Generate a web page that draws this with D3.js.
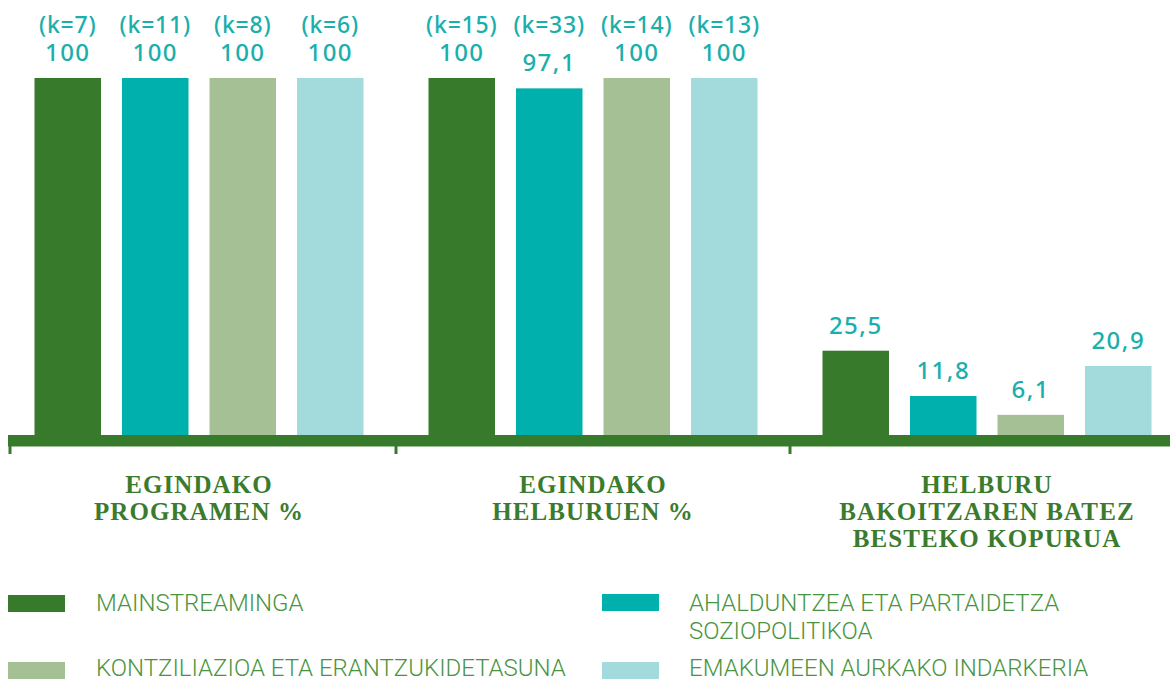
<!DOCTYPE html>
<html>
<head>
<meta charset="utf-8">
<script src="https://cdn.jsdelivr.net/npm/d3@7/dist/d3.min.js"></script>
<style>
  html, body { margin: 0; padding: 0; background: #ffffff; }
  svg { display: block; }
</style>
</head>
<body>
<svg id="chart" width="1170" height="680"></svg>
<script>
// ---- Data ----
const groups = ["g1", "g2", "g3"];
const groupLabels = [
  ["EGINDAKO", "PROGRAMEN %"],
  ["EGINDAKO", "HELBURUEN %"],
  ["HELBURU", "BAKOITZAREN BATEZ", "BESTEKO KOPURUA"]
];
const seriesKeys = ["mainstreaming", "ahalduntzea", "kontziliazioa", "indarkeria"];
const seriesNames = [
  ["MAINSTREAMINGA"],
  ["AHALDUNTZEA ETA PARTAIDETZA", "SOZIOPOLITIKOA"],
  ["KONTZILIAZIOA ETA ERANTZUKIDETASUNA"],
  ["EMAKUMEEN AURKAKO INDARKERIA"]
];
const programenValues = [100, 100, 100, 100];
const helburuenValues = [100, 97.1, 100, 100];
const kopuruaValues = [25.5, 11.8, 6.1, 20.9];
const programenK = [7, 11, 8, 6];
const helburuenK = [15, 33, 14, 13];
const valueLabels = [
  ["100", "100", "100", "100"],
  ["100", "97,1", "100", "100"],
  ["25,5", "11,8", "6,1", "20,9"]
];
const colors = ["#387a2c", "#00b0ad", "#a5c095", "#a3dadb"];

// ---- Layout ----
const svg = d3.select("#chart");
const baseY = 435;
const topY = 78;

const x0 = d3.scaleBand().domain(groups).range([2, 1184]).paddingInner(0).paddingOuter(0);
const x1 = d3.scaleBand().domain(seriesKeys).range([-175, 175]).paddingInner(0.24).paddingOuter(0.12);
const yPct = d3.scaleLinear().domain([0, 100]).range([baseY, topY]);
const yCount = d3.scaleLinear().domain([0, 108]).range([baseY, topY]);

const color = d3.scaleOrdinal().domain(seriesKeys).range(colors);

const data = [
  { g: "g1", values: programenValues, k: programenK, y: yPct },
  { g: "g2", values: helburuenValues, k: helburuenK, y: yPct },
  { g: "g3", values: kopuruaValues, k: null, y: yCount }
];

const labelColor = "#1aafac";
const greenText = "#3a7b2d";

data.forEach((grp, gi) => {
  const cx = x0(grp.g) + x0.bandwidth() / 2;
  const gSel = svg.append("g").attr("transform", `translate(${cx},0)`);
  seriesKeys.forEach((s, i) => {
    const v = grp.values[i];
    const bx = x1(s);
    gSel.append("rect")
      .attr("x", bx)
      .attr("y", grp.y(v))
      .attr("width", x1.bandwidth())
      .attr("height", baseY - grp.y(v))
      .attr("fill", color(s));
    gSel.append("text")
      .attr("x", bx + x1.bandwidth() / 2)
      .attr("y", grp.y(v) - 17)
      .attr("text-anchor", "middle")
      .attr("font-family", "'Noto Sans', sans-serif")
      .attr("font-weight", 500)
      .attr("font-size", 24)
      .attr("letter-spacing", 1.5)
      .attr("fill", labelColor)
      .text(valueLabels[gi][i]);
    if (grp.k) {
      gSel.append("text")
        .attr("x", bx + x1.bandwidth() / 2)
        .attr("y", grp.y(100) - 45)
        .attr("text-anchor", "middle")
        .attr("font-family", "'Noto Sans', sans-serif")
        .attr("font-weight", 500)
        .attr("font-size", 23)
        .attr("letter-spacing", 0.8)
        .attr("fill", labelColor)
        .text(`(k=${grp.k[i]})`);
    }
  });

  // category label
  const t = svg.append("text")
    .attr("x", cx)
    .attr("y", 493)
    .attr("text-anchor", "middle")
    .attr("font-family", "'Liberation Serif', 'Times New Roman', serif")
    .attr("font-weight", "bold")
    .attr("font-size", 25)
    .attr("letter-spacing", 1.1)
    .attr("fill", greenText);
  groupLabels[gi].forEach((line, li) => {
    t.append("tspan").attr("x", cx).attr("dy", li === 0 ? 0 : 27).text(line);
  });
});

// axis band
const axisG = svg.append("g");
axisG.append("rect")
  .attr("x", 8).attr("y", baseY)
  .attr("width", 1170 - 8).attr("height", 11.5)
  .attr("fill", "#387a2c");
// ticks
const tickXs = [10].concat(groups.slice(1).map(g => x0(g)));
axisG.selectAll("rect.tick").data(tickXs).enter().append("rect")
  .attr("class", "tick")
  .attr("x", d => d - 1.5).attr("y", baseY + 11)
  .attr("width", 3).attr("height", 8)
  .attr("fill", "#387a2c");

// legend
const legendPos = [
  { sx: 8, tx: 96, sy: 595, ty: 611 },
  { sx: 602, tx: 689, sy: 594, ty: 611 },
  { sx: 8, tx: 96, sy: 662, ty: 676 },
  { sx: 602, tx: 689, sy: 662, ty: 676 }
];
const legend = svg.append("g");
seriesKeys.forEach((s, i) => {
  const p = legendPos[i];
  legend.append("rect")
    .attr("x", p.sx).attr("y", p.sy)
    .attr("width", 57).attr("height", 17)
    .attr("fill", color(s));
  const t = legend.append("text")
    .attr("x", p.tx).attr("y", p.ty)
    .attr("font-family", "Roboto, 'Liberation Sans', sans-serif")
    .attr("font-weight", 300)
    .attr("font-size", 24)
    .attr("fill", "#4a9441");
  seriesNames[i].forEach((line, li) => {
    t.append("tspan").attr("x", p.tx).attr("dy", li === 0 ? 0 : 28).text(line);
  });
});
</script>
</body>
</html>
